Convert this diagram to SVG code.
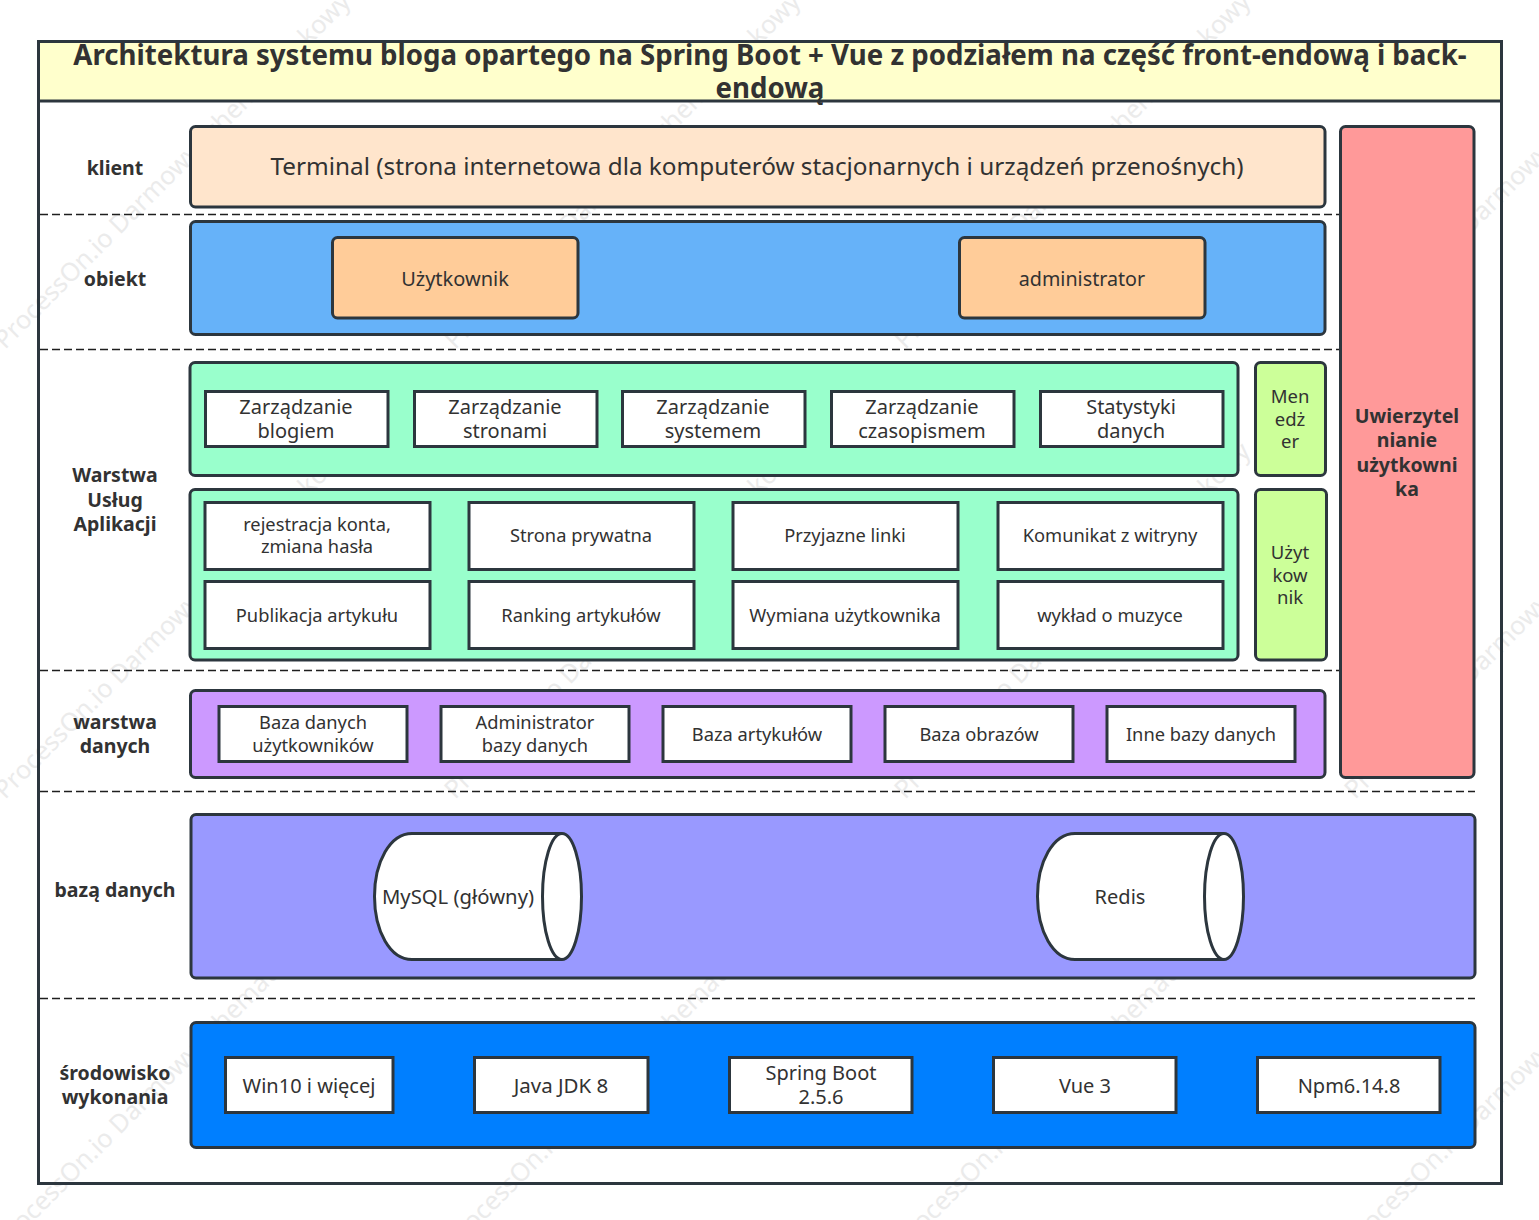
<svg xmlns="http://www.w3.org/2000/svg" width="1539" height="1220" viewBox="0 0 1539 1220">
<style>
text{font-family:"Noto Sans","Open Sans","Liberation Sans",sans-serif;fill:#323232;text-anchor:middle}
.s{stroke:#2c363e;stroke-width:3}
.w{fill:#fff;stroke:#2c363e;stroke-width:3}
.r{rx:5;ry:5}
.l{font-weight:700;font-size:19.500px}
.t20{font-size:20px}
.t19{font-size:18.300px}
.wm{font-size:25.400px;fill:#ebebeb;text-anchor:start}
.d{stroke:#1e1e1e;stroke-width:1.500;stroke-dasharray:8 4;fill:none}
</style>
<defs><text id="wmt" class="wm" transform="rotate(-45)">ProcessOn.io Darmowy schemat blokowy</text></defs>
<rect width="1539" height="1220" fill="#fff"/>
<g id="watermark">
<use href="#wmt" transform="translate(5 350)"/>
<use href="#wmt" transform="translate(455 350)"/>
<use href="#wmt" transform="translate(905 350)"/>
<use href="#wmt" transform="translate(1355 350)"/>
<use href="#wmt" transform="translate(5 800)"/>
<use href="#wmt" transform="translate(455 800)"/>
<use href="#wmt" transform="translate(905 800)"/>
<use href="#wmt" transform="translate(1355 800)"/>
<use href="#wmt" transform="translate(5 1250)"/>
<use href="#wmt" transform="translate(455 1250)"/>
<use href="#wmt" transform="translate(905 1250)"/>
<use href="#wmt" transform="translate(1355 1250)"/>
</g>
<g id="frame">
<rect x="38.500" y="41.500" width="1463" height="1142" fill="none" class="s"/>
<rect x="38.500" y="41.500" width="1463" height="59.500" fill="#ffffcc" class="s"/>
<text x="770" y="65" font-size="27.650" font-weight="700">Architektura systemu bloga opartego na Spring Boot + Vue z podziałem na część front-endową i back-</text>
<text x="770" y="98" font-size="27.650" font-weight="700">endową</text>
</g>
<g id="connectors">
<path class="d" d="M40 214.500H1340M40 349.500H1340M40 670.500H1340M40 791.500H1475M40 998.500H1475"/>
</g>
<g id="lane-labels">
<text class="l" x="115" y="175">klient</text>
<text class="l" x="115" y="286">obiekt</text>
<text class="l" x="115" y="482">Warstwa</text><text class="l" x="115" y="507">Usług</text><text class="l" x="115" y="531">Aplikacji</text>
<text class="l" x="115" y="729">warstwa</text><text class="l" x="115" y="753">danych</text>
<text class="l" x="115" y="897">bazą danych</text>
<text class="l" x="115" y="1080">środowisko</text><text class="l" x="115" y="1104">wykonania</text>
</g>
<g id="terminal"><rect class="s r" x="190.500" y="126.500" width="1134.500" height="80.500" fill="#ffe5cc"/><text x="757" y="175" font-size="24.300">Terminal (strona internetowa dla komputerów stacjonarnych i urządzeń przenośnych)</text></g>
<g id="obiekt"><rect class="s r" x="190.500" y="221.500" width="1134.500" height="113" fill="#66b2f9"/></g>
<g id="uzytkownik"><rect class="s r" x="332.500" y="237.500" width="245.500" height="80.500" fill="#ffcc99"/><text class="t20" x="455" y="286">Użytkownik</text></g>
<g id="administrator"><rect class="s r" x="959.500" y="237.500" width="245.500" height="80.500" fill="#ffcc99"/><text x="1082" y="286" font-size="19.700">administrator</text></g>
<g id="uwierzytelnianie"><rect class="s r" x="1340.500" y="126.500" width="133.500" height="651" fill="#ff9999"/>
<text class="l" x="1407" y="423">Uwierzytel</text><text class="l" x="1407" y="447">nianie</text><text class="l" x="1407" y="472">użytkowni</text><text class="l" x="1407" y="496">ka</text></g>
<g id="app-admin"><rect class="s r" x="190" y="362.500" width="1048" height="113" fill="#99ffcc"/></g>
<g id="n1"><rect class="w" x="205.500" y="391.500" width="182.500" height="55"/><text class="t20" x="296" y="414">Zarządzanie</text><text class="t20" x="296" y="438">blogiem</text></g>
<g id="n2"><rect class="w" x="414.500" y="391.500" width="182.500" height="55"/><text class="t20" x="505" y="414">Zarządzanie</text><text class="t20" x="505" y="438">stronami</text></g>
<g id="n3"><rect class="w" x="622.500" y="391.500" width="182.500" height="55"/><text class="t20" x="713" y="414">Zarządzanie</text><text class="t20" x="713" y="438">systemem</text></g>
<g id="n4"><rect class="w" x="831.500" y="391.500" width="182.500" height="55"/><text class="t20" x="922" y="414">Zarządzanie</text><text class="t20" x="922" y="438">czasopismem</text></g>
<g id="n5"><rect class="w" x="1040.500" y="391.500" width="182.500" height="55"/><text class="t20" x="1131" y="414">Statystyki</text><text class="t20" x="1131" y="438">danych</text></g>
<g id="menedzer"><rect class="s r" x="1255.500" y="362.500" width="70" height="113" fill="#ccff99"/><text x="1290" y="403" font-size="18.500">Men</text><text x="1290" y="426" font-size="18.500">edż</text><text x="1290" y="448" font-size="18.500">er</text></g>
<g id="app-user"><rect class="s r" x="190" y="489.500" width="1048" height="170.500" fill="#99ffcc"/></g>
<g id="u1"><rect class="w" x="205" y="502.500" width="225" height="67"/><text class="t19" x="317" y="531">rejestracja konta,</text><text class="t19" x="317" y="553">zmiana hasła</text></g>
<g id="u2"><rect class="w" x="469" y="502.500" width="225" height="67"/><text class="t19" x="581" y="542">Strona prywatna</text></g>
<g id="u3"><rect class="w" x="733" y="502.500" width="225" height="67"/><text class="t19" x="845" y="542">Przyjazne linki</text></g>
<g id="u4"><rect class="w" x="998" y="502.500" width="225" height="67"/><text class="t19" x="1110" y="542">Komunikat z witryny</text></g>
<g id="u5"><rect class="w" x="205" y="581.500" width="225" height="67"/><text class="t19" x="317" y="622">Publikacja artykułu</text></g>
<g id="u6"><rect class="w" x="469" y="581.500" width="225" height="67"/><text class="t19" x="581" y="622">Ranking artykułów</text></g>
<g id="u7"><rect class="w" x="733" y="581.500" width="225" height="67"/><text class="t19" x="845" y="622">Wymiana użytkownika</text></g>
<g id="u8"><rect class="w" x="998" y="581.500" width="225" height="67"/><text class="t19" x="1110" y="622">wykład o muzyce</text></g>
<g id="uzytkownik-side"><rect class="s r" x="1255.500" y="489.500" width="71" height="170.500" fill="#ccff99"/><text x="1290" y="559" font-size="18.500">Użyt</text><text x="1290" y="582" font-size="18.500">kow</text><text x="1290" y="604" font-size="18.500">nik</text></g>
<g id="data-layer"><rect class="s r" x="190.500" y="690.500" width="1134.500" height="87" fill="#cc99ff"/></g>
<g id="d1"><rect class="w" x="219" y="706.500" width="188" height="55"/><text class="t19" x="313" y="729">Baza danych</text><text class="t19" x="313" y="752">użytkowników</text></g>
<g id="d2"><rect class="w" x="441" y="706.500" width="188" height="55"/><text class="t19" x="535" y="729">Administrator</text><text class="t19" x="535" y="752">bazy danych</text></g>
<g id="d3"><rect class="w" x="663" y="706.500" width="188" height="55"/><text class="t19" x="757" y="741">Baza artykułów</text></g>
<g id="d4"><rect class="w" x="885" y="706.500" width="188" height="55"/><text class="t19" x="979" y="741">Baza obrazów</text></g>
<g id="d5"><rect class="w" x="1107" y="706.500" width="188" height="55"/><text class="t19" x="1201" y="741">Inne bazy danych</text></g>
<g id="db-layer"><rect class="s r" x="191" y="814.500" width="1284" height="163.500" fill="#9999ff"/></g>
<g id="mysql"><path class="w" d="M562 833.500H412C390 833.500 374.500 862 374.500 896.500S390 959.500 412 959.500H562"/><ellipse class="w" cx="562" cy="896.500" rx="19.500" ry="63"/><text x="458" y="904" font-size="20.300">MySQL (główny)</text></g>
<g id="redis"><path class="w" d="M1224 833.500H1075C1053 833.500 1037.500 862 1037.500 896.500S1053 959.500 1075 959.500H1224"/><ellipse class="w" cx="1224" cy="896.500" rx="19.500" ry="63"/><text class="t20" x="1120" y="904">Redis</text></g>
<g id="env-layer"><rect class="s r" x="191" y="1022.500" width="1284" height="125" fill="#007fff"/></g>
<g id="e1"><rect class="w" x="225.500" y="1057.500" width="167.500" height="55"/><text class="t20" x="309" y="1093">Win10 i więcej</text></g>
<g id="e2"><rect class="w" x="474.500" y="1057.500" width="173.500" height="55"/><text x="561" y="1093" font-size="20.500">Java JDK 8</text></g>
<g id="e3"><rect class="w" x="729.500" y="1057.500" width="182.500" height="55"/><text class="t20" x="821" y="1080">Spring Boot</text><text class="t20" x="821" y="1104">2.5.6</text></g>
<g id="e4"><rect class="w" x="993.500" y="1057.500" width="182.500" height="55"/><text class="t20" x="1085" y="1093">Vue 3</text></g>
<g id="e5"><rect class="w" x="1257.500" y="1057.500" width="182.500" height="55"/><text class="t20" x="1349" y="1093">Npm6.14.8</text></g>
</svg>
